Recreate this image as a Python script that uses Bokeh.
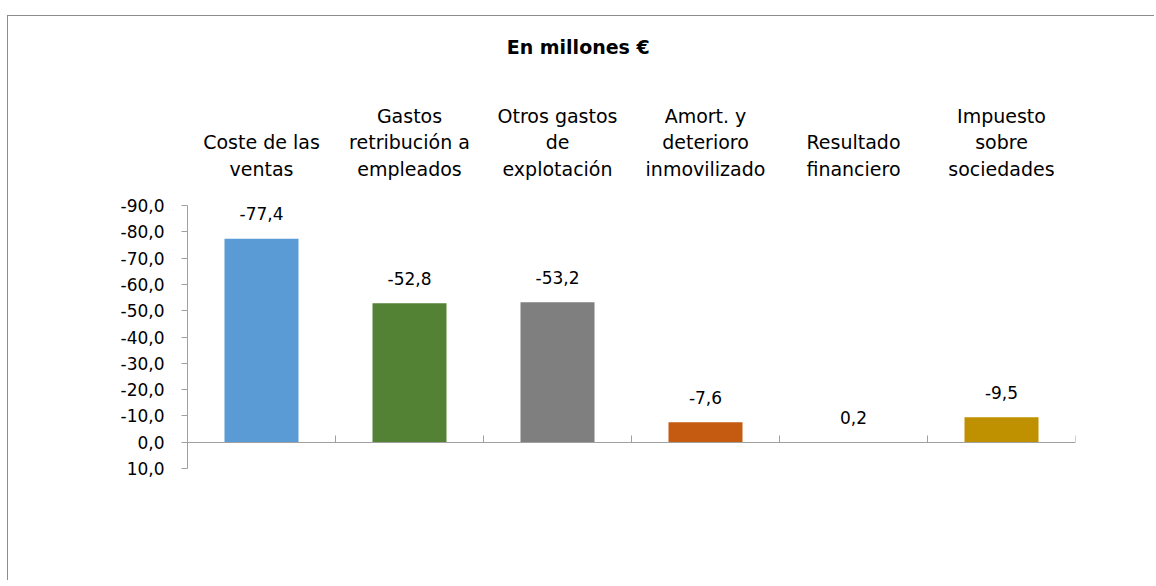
from bokeh.plotting import figure
from bokeh.models import Range1d, LinearAxis, FixedTicker, ColumnDataSource, LabelSet
from bokeh.core.properties import value
from bokeh.embed import file_html
from bokeh.resources import INLINE

categories = [
    "Coste de las\nventas",
    "Gastos\nretribución a\nempleados",
    "Otros gastos\nde\nexplotación",
    "Amort. y\ndeterioro\ninmovilizado",
    "Resultado\nfinanciero",
    "Impuesto\nsobre\nsociedades",
]
values = [-77.4, -52.8, -53.2, -7.6, 0.2, -9.5]
value_labels = ["-77,4", "-52,8", "-53,2", "-7,6", "0,2", "-9,5"]
colors = ["#5B9BD5", "#548235", "#7F7F7F", "#C55A11", "#44546A", "#BF9000"]
y_ticks = [-90, -80, -70, -60, -50, -40, -30, -20, -10, 0, 10]
y_tick_labels = ["-90,0", "-80,0", "-70,0", "-60,0", "-50,0", "-40,0",
                 "-30,0", "-20,0", "-10,0", "0,0", "10,0"]
title_text = "En millones €"

FONT = "DejaVu Sans"
AXIS_GRAY = "#A0A0A0"
TEXT = "#000000"
TITLE_POS = 2.64  # horizontal placement of the title (centred on the whole chart box)

n = len(categories)
xs = [i + 0.5 for i in range(n)]
label_y = [min(v, 0) for v in values]
boundaries = list(range(1, n + 1))

src = ColumnDataSource(dict(x=xs, top=values, color=colors, ly=label_y, lbl=value_labels))

p = figure(
    width=1147, height=565,
    x_range=Range1d(0, n), y_range=Range1d(y_ticks[-1], y_ticks[0]),
    output_backend="svg", toolbar_location=None,
    x_axis_location=None, y_axis_location="left",
    min_border_left=179, min_border_right=80, min_border_top=189, min_border_bottom=113,
)
p.margin = (15, 0, 0, 7)
p.styles = {"border-top": "1px solid #8C8C8C", "border-left": "1px solid #8C8C8C"}
p.outline_line_color = None
p.grid.visible = False
p.background_fill_color = "white"
p.border_fill_color = "white"

ya = p.yaxis[0]
ya.ticker = FixedTicker(ticks=y_ticks)
ya.major_label_overrides = {t: l for t, l in zip(y_ticks, y_tick_labels)}
ya.axis_line_color = AXIS_GRAY
ya.major_tick_line_color = AXIS_GRAY
ya.major_tick_in = 0
ya.major_tick_out = 6
ya.minor_tick_line_color = None
ya.major_label_standoff = 17
ya.major_label_text_font = FONT
ya.major_label_text_font_size = "17px"
ya.major_label_text_color = TEXT

xa = LinearAxis(
    fixed_location=0,
    ticker=FixedTicker(ticks=boundaries),
    major_label_overrides={b: "" for b in boundaries},
    axis_line_color=AXIS_GRAY, major_tick_line_color=AXIS_GRAY,
    major_tick_in=7, major_tick_out=0, minor_tick_line_color=None,
)
p.add_layout(xa, "below")

ta = LinearAxis(
    ticker=FixedTicker(ticks=xs),
    major_label_overrides={x: c for x, c in zip(xs, categories)},
    axis_line_color=None, major_tick_line_color=None, minor_tick_line_color=None,
    major_tick_in=0, major_tick_out=0,
    major_label_standoff=26,
    major_label_text_font=FONT, major_label_text_font_size="19px",
    major_label_text_color=TEXT,
)
p.add_layout(ta, "above")

title_axis = LinearAxis(
    ticker=FixedTicker(ticks=[TITLE_POS]),
    major_label_overrides={TITLE_POS: title_text},
    axis_line_color=None, major_tick_line_color=None, minor_tick_line_color=None,
    major_tick_in=0, major_tick_out=0,
    major_label_standoff=44,
    major_label_text_font=FONT, major_label_text_font_size="19px",
    major_label_text_font_style="bold", major_label_text_color=TEXT,
)
p.add_layout(title_axis, "above")

p.vbar(x="x", top="top", bottom=0, width=0.5, color="color", source=src, line_color=None)

labels = LabelSet(x="x", y="ly", text="lbl", source=src, y_offset=25,
                  text_align="center", text_baseline="middle",
                  text_font=value(FONT), text_font_size=value("17px"), text_color=TEXT)
p.add_layout(labels)

open("out.html", "w").write(file_html(p, INLINE))
